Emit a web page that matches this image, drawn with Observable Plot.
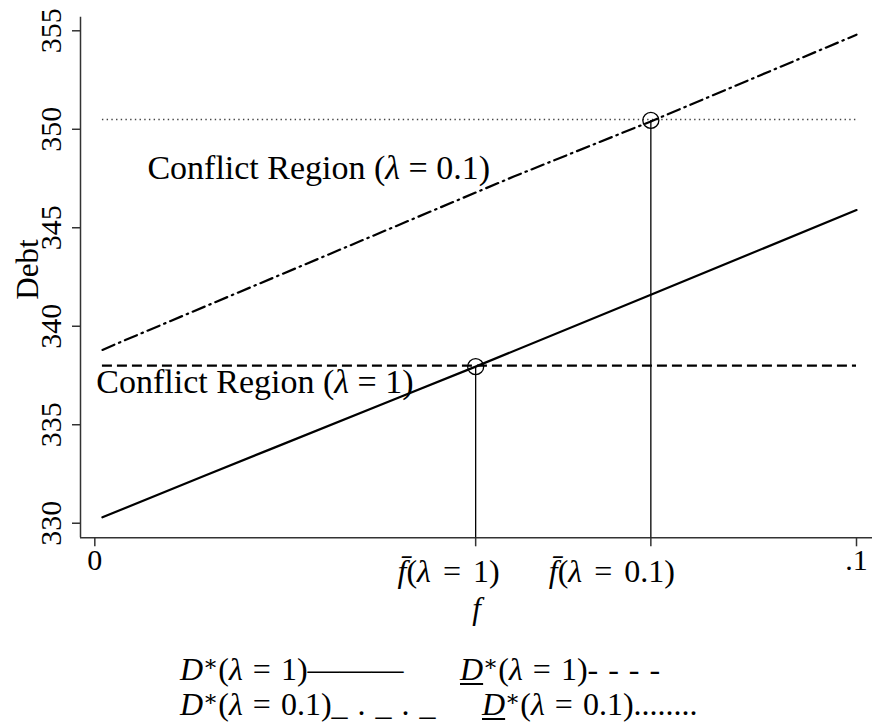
<!DOCTYPE html>
<html><head><meta charset="utf-8">
<script src="https://cdn.jsdelivr.net/npm/d3@7"></script>
<script src="https://cdn.jsdelivr.net/npm/@observablehq/plot@0.6"></script>
<style>
html,body{margin:0;padding:0;background:#fff;}
#chart{width:872px;height:727px;position:relative;font-family:"Liberation Serif","DejaVu Serif",serif;overflow:hidden;}
#chart svg{display:block;}
#legend{position:relative;height:97px;font-size:32px;color:#000;font-family:"Liberation Serif","DejaVu Serif",serif;}
#legend .item{position:absolute;white-space:nowrap;line-height:1;word-spacing:2px;}
#legend sup{font-size:0.7em;vertical-align:0.42em;line-height:0;}
#legend u{text-decoration-thickness:2px;text-underline-offset:3px;}
</style></head><body>
<div id="chart"></div>
<script>
// ---- data ----
const fSolid = [0.001, 0.014, 0.023, 0.04, 0.05, 0.073, 0.1];
const debtStarLam1 = [330.3, 332.35, 333.75, 336.4, 337.95, 341.6, 345.9];
const fDashDot = [0.001, 0.004, 0.055, 0.073, 0.1];
const debtStarLam01 = [338.8, 339.3, 347.6, 350.4, 354.8];
const fRange = [0.001, 0.1];
const debtLowerLam1 = 338.0;
const debtLowerLam01 = 350.5;
const fBar = [0.05, 0.073];
const fBarDebt = [337.95, 350.45];
const fBarLabels = ["f\u0304(λ = 1)", "f\u0304(λ = 0.1)"];
const yTicks = [330, 335, 340, 345, 350, 355];
const xTicks = [0, 0.1];
const xTickLabels = ["0", ".1"];
const regionLabels = ["Conflict Region (λ = 0.1)", "Conflict Region (λ = 1)"];
const regionF = [0.0069, 0.0002];
const regionDebt = [347.5, 336.6];
const yTitle = "Debt";
const xTitle = "f";
const xDomain = [-0.00188, 0.1021];
const yDomain = [329.26, 355.69];
const legendEntries = [
  {lam: "1", under: false, sym: "———"},
  {lam: "1", under: true, sym: "- - - -"},
  {lam: "0.1", under: false, sym: "_ . _ . _"},
  {lam: "0.1", under: true, sym: "........"}
];

// ---- tables ----
const solid = fSolid.map((f, i) => ({f, debt: debtStarLam1[i]}));
const dashdot = fDashDot.map((f, i) => ({f, debt: debtStarLam01[i]}));
const circles = fBar.map((f, i) => ({f, debt: fBarDebt[i]}));
const regions = regionLabels.map((t, i) => ({t, f: regionF[i], debt: regionDebt[i]}));

const FONT = '"Liberation Serif", "DejaVu Serif", serif';
const axisColor = "#333";

const svg = Plot.plot({
  width: 872, height: 630,
  marginLeft: 80, marginRight: 0, marginTop: 16.7, marginBottom: 92.7,
  x: {domain: xDomain},
  y: {domain: yDomain},
  style: {fontFamily: FONT, color: "#000", background: "#fff", overflow: "visible"},
  marks: [
    Plot.ruleX([xDomain[0]], {stroke: axisColor, strokeWidth: 1.5}),
    Plot.ruleY([yDomain[0]], {stroke: axisColor, strokeWidth: 1.5}),
    Plot.axisY({ticks: yTicks, tickSize: 8, tickFormat: () => "", label: null, stroke: axisColor, strokeWidth: 1.5}),
    Plot.axisX({ticks: [...xTicks, ...fBar], tickSize: 9, tickFormat: () => "", label: null, stroke: axisColor, strokeWidth: 1.5}),
    Plot.ruleY([debtLowerLam01], {x1: fRange[0], x2: fRange[1], stroke: "#444", strokeWidth: 1.4, strokeDasharray: "1.4,3.3"}),
    Plot.ruleY([debtLowerLam1], {x1: fRange[0], x2: fRange[1], stroke: "#000", strokeWidth: 2.2, strokeDasharray: "10,5"}),
    Plot.line(dashdot, {x: "f", y: "debt", stroke: "#000", strokeWidth: 2.2, strokeDasharray: "13,5,1.5,5"}),
    Plot.line(solid, {x: "f", y: "debt", stroke: "#000", strokeWidth: 2.2}),
    Plot.ruleX(fBar, {x: d => d, y1: yDomain[0], y2: (d, i) => fBarDebt[i], stroke: "#000", strokeWidth: 1.3}),
    Plot.dot(circles, {x: "f", y: "debt", r: 8, stroke: "#000", strokeWidth: 1.3, fill: "none"}),
    Plot.text(yTicks, {y: d => d, text: d => String(d), frameAnchor: "left", dx: -29, rotate: -90, textAnchor: "middle", lineAnchor: "middle", fontSize: 30}),
    Plot.text(xTicks, {x: d => d, text: (d, i) => xTickLabels[i], frameAnchor: "bottom", dy: 31.7, lineAnchor: "bottom", textAnchor: "middle", fontSize: 30}),
    Plot.text(fBar, {x: d => d, text: (d, i) => fBarLabels[i], frameAnchor: "bottom", dy: 44.5, dx: 24, lineAnchor: "bottom", textAnchor: "end", fontSize: 32, className: "fbar"}),
    Plot.text([yTitle], {frameAnchor: "left", dx: -42.5, dy: -8, rotate: -90, lineAnchor: "bottom", textAnchor: "middle", fontSize: 31}),
    Plot.text([xTitle], {frameAnchor: "bottom", dy: 81, lineAnchor: "bottom", textAnchor: "middle", fontStyle: "italic", fontSize: 31}),
    Plot.text(regions, {x: "f", y: "debt", text: "t", textAnchor: "start", lineAnchor: "bottom", fontSize: 34})
  ]
});

// italicize math symbols inside SVG texts
d3.select(svg).selectAll("text").each(function() {
  const s = this.textContent;
  if (!/λ|f\u0304/.test(s)) return;
  this.textContent = "";
  for (const p of s.split(/(λ|f\u0304)/)) {
    if (!p) continue;
    const t = document.createElementNS("http://www.w3.org/2000/svg", "tspan");
    t.textContent = p;
    if (p === "λ" || p === "f\u0304") t.setAttribute("font-style", "italic");
    this.appendChild(t);
  }
});
d3.select(svg).selectAll("g.fbar text").attr("word-spacing", "4px");

const chart = document.getElementById("chart");
chart.appendChild(svg);

// legend (HTML below the SVG)
const legendPos = [[180, 23], [460, 23], [180, 58], [482, 58]];
const legend = document.createElement("div");
legend.id = "legend";
legendEntries.forEach((e, i) => {
  const div = document.createElement("div");
  div.className = "item";
  div.style.left = legendPos[i][0] + "px";
  div.style.top = legendPos[i][1] + "px";
  const D = e.under ? "<u><i>D</i></u>" : "<i>D</i>";
  div.innerHTML = `${D}<sup>∗</sup>(<i>λ</i> = ${e.lam})<span class="sym">${e.sym}</span>`;
  legend.appendChild(div);
});
chart.appendChild(legend);
</script>
</body></html>
